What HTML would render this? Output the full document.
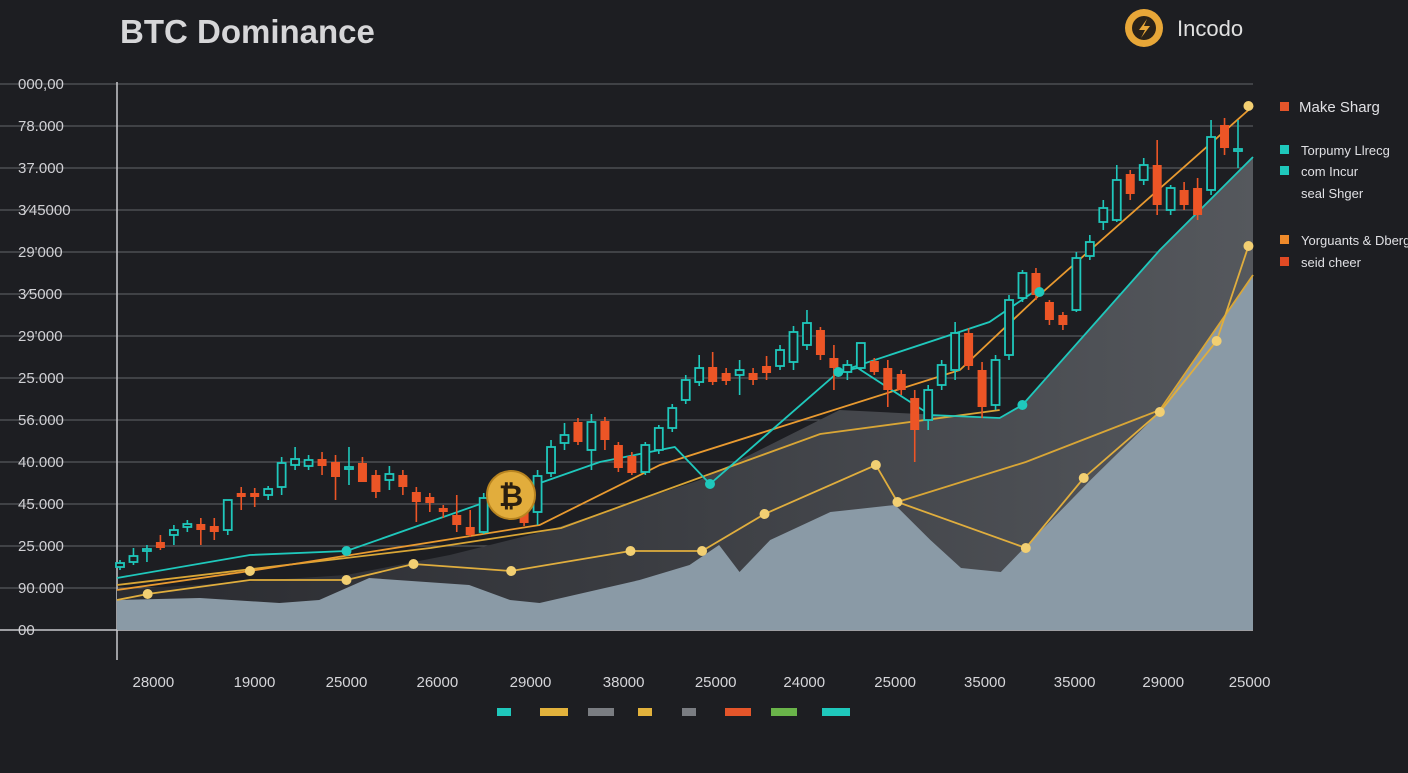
<!DOCTYPE html>
<html><head><meta charset="utf-8">
<style>
html,body{margin:0;padding:0;background:#1d1e22;}
body{width:1408px;height:768px;overflow:hidden;font-family:"Liberation Sans",sans-serif;}
</style></head>
<body>
<svg id="chart" width="1408" height="768" xmlns="http://www.w3.org/2000/svg">
<defs>
<linearGradient id="darkGrad" x1="0" y1="0" x2="1" y2="0">
<stop offset="0" stop-color="#2a2b30"/>
<stop offset="0.45" stop-color="#3a3c41"/>
<stop offset="1" stop-color="#55585d"/>
</linearGradient>
</defs>
<rect width="1408" height="768" fill="#1d1e22"/>
<text x="120" y="43" font-size="33" font-weight="bold" fill="#d6d6d8">BTC Dominance</text>
<g>
<circle cx="1144" cy="28" r="19" fill="#e8a738"/>
<circle cx="1144" cy="28" r="12" fill="#2a2218"/>
<path d="M1147 19 L1139 30 L1145 30 L1141 38 L1150 26 L1144 26 Z" fill="#e8a738"/>
</g>
<text x="1177" y="36" font-size="22" fill="#e0e0e0">Incodo</text>
<g id="grid"></g>
<g id="areas"></g>
<g id="lines"></g>
<g id="candles"></g>
<g id="dots"></g>
<g>
<circle cx="511" cy="495" r="24" fill="#e2ad3c" stroke="#b88420" stroke-width="2"/>
<text x="511" y="506" font-size="30" font-weight="bold" text-anchor="middle" fill="#2a1f10">₿</text>
</g>
<g id="legend-right"></g>
<g id="legend-bottom"></g>
</svg>
<script>
const yTicks=["00","90.000","25.000","45.000","40.000","56.000","25.000","29'000","3⁄5000","29'000","3⁄45000","37.000","78.000","000,00"];
const xTicks=["28000","19000","25000","26000","29000","38000","25000","24000","25000","35000","35000","29000","25000"];
const xTickPos=[3.2,12.1,20.2,28.2,36.4,44.6,52.7,60.5,68.5,76.4,84.3,92.1,99.7];
const opens=[63,68,79,88,95,103,106,104,100,137,137,135,143,165,164,171,168,161,167,155,150,155,138,133,122,115,103,98,133,146,133,118,157,187,208,180,209,185,174,158,180,202,230,248,263,257,255,257,264,264,268,285,300,272,258,262,269,262,256,232,210,245,260,297,260,225,275,332,357,328,315,320,374,408,410,456,450,465,420,440,442,440,505,480];
const closes=[67,74,81,82,100,106,100,98,130,133,133,141,167,171,170,164,153,163,148,138,156,143,128,127,118,105,95,132,140,120,107,154,183,195,188,208,190,162,157,185,202,222,250,262,248,249,260,250,257,280,298,307,275,262,265,287,258,240,240,200,240,265,297,264,223,270,330,357,335,310,305,372,388,422,450,436,465,425,442,425,415,493,482,481];
const highs=[70,82,85,95,105,110,112,112,130,143,142,144,173,183,175,178,175,183,173,160,164,160,143,137,125,135,120,137,150,150,136,160,190,207,212,216,213,188,178,188,205,226,255,275,278,262,270,262,274,285,304,320,303,285,270,287,272,270,260,240,245,270,308,302,268,275,335,360,362,330,318,378,395,430,465,460,472,490,445,448,452,510,512,510];
const lows=[60,65,68,80,85,98,85,90,95,120,123,130,135,160,160,155,130,145,148,132,140,135,108,118,112,98,93,96,128,115,104,105,153,180,185,160,180,158,155,155,176,198,226,244,245,245,235,245,250,260,260,280,270,240,250,260,255,223,235,168,200,240,250,260,212,220,270,328,330,305,300,318,370,400,408,430,445,415,415,420,410,435,475,462];
const tealAx=[0,11.7,20.2,42.5,49.1,52.2,63.5,76.8,81.2];
const tealAy=[52,75,79,168,183,146,258,308,342];
const tealBx=[63.5,65.2,71.6,77.7,79.7,91.8,100];
const tealBy=[258,262,215,212,225,380,473];
const goldAx=[0,2.7,11.7,20.2,26.1,34.7,45.2,51.5,57.0,66.8,68.7,80.0,85.1,91.8,96.8,99.6];
const goldAy=[30,36,50,50,66,59,79,79,116,165,128,82,152,218,289,384];
const goldBx=[0,27.6,39.1,61.9,77.7];
const goldBy=[45,82,102,196,220];
const orangeX=[0,11.7,37.2,47.8,74.2,81.2,100];
const orangeY=[40,59,105,165,260,335,524];
const goldCx=[68.7,80.0,91.8,100];
const goldCy=[128,168,220,355];
const dotTx=[20.2,52.2,63.5,79.7,81.2];
const dotTy=[79,146,258,225,338];
const dotGx=[2.7,11.7,20.2,26.1,34.7,45.2,51.5,57.0,66.8,68.7,80.0,85.1,91.8,96.8,99.6,99.6];
const dotGy=[36,59,50,66,59,79,79,116,165,128,82,152,218,289,384,524];
const darkAx=[0,20.2,29.3,38.1,51.3,63.6,77.7,79.7,91.8,100];
const darkAy=[40,55,75,100,150,220,212,225,380,473];
const lightAx=[0,7.3,14.3,17.8,22.2,31.0,34.6,37.2,46.0,50.4,53.0,54.8,57.5,62.8,68.5,71.6,74.3,77.8,85.7,91.8,100];
const lightAy=[30,32,27,30,52,45,30,27,50,65,85,58,90,118,125,90,62,58,150,218,355];
const legendRight=[["Make Sharg","#e4552a",107,15],["Torpumy Llrecg","#1fc8bc",150,13],["com Incur","#1fc8bc",171,13],["seal Shger","",193,13],["Yorguants & Dberg","#ef8a2a",240,13],["seid cheer","#e04a24",262,13]];
const legendBottom=[["#1fc8bc",497,14],["#e2b23c",540,28],["#7a7d82",588,26],["#e2b23c",638,14],["#7a7d82",682,14],["#e4552a",725,26],["#6ab44a",771,26],["#1fc8bc",822,28]];

const NS="http://www.w3.org/2000/svg";
const X0=117,X1=1253,Y0=630,PXV=1;
function xs(t){return X0+(X1-X0)*t/100;}
function ys(v){return Y0-v*PXV;}
function xc(i){return 120+i*(1238-120)/(opens.length-1);}
function mk(tag,attrs,parent){const e=document.createElementNS(NS,tag);for(const k in attrs)e.setAttribute(k,attrs[k]);parent.appendChild(e);return e;}
const grid=document.getElementById('grid');
yTicks.forEach((lab,i)=>{
  const y=Y0-i*42;
  const l=mk('line',{x1:0,x2:1253,y1:y,y2:y,stroke:i==0?'#c8c8cc':'#55575c','stroke-width':i==0?1.5:1.2},grid);
  
  
  const t=mk('text',{x:18,y:y+5,'font-size':15,fill:'#d0d0d4'},grid);
  t.textContent=lab;
  
  
});
const ax=mk('line',{x1:117,x2:117,y1:82,y2:660,stroke:'#c8c8cc','stroke-width':1.5},grid);


xTicks.forEach((lab,i)=>{
  const t=mk('text',{x:xs(xTickPos[i]),y:687,'font-size':15,fill:'#d6d6da','text-anchor':'middle'},grid);
  t.textContent=lab;
  
  
});
function pts(xa,ya){return xa.map((x,i)=>xs(x)+','+ys(ya[i])).join(' ');}
const areas=document.getElementById('areas');
const da=mk('polygon',{points:xs(0)+','+Y0+' '+pts(darkAx,darkAy)+' '+xs(100)+','+Y0,fill:'url(#darkGrad)'},areas);


const la=mk('polygon',{points:xs(0)+','+Y0+' '+pts(lightAx,lightAy)+' '+xs(100)+','+Y0,fill:'#8a9aa6'},areas);


const lines=document.getElementById('lines');
[[goldBx,goldBy,'#d9a636','gold-trend-line'],[goldCx,goldCy,'#d9a636','gold-lower-line'],[goldAx,goldAy,'#e0ae3e','gold-dotted-series'],[orangeX,orangeY,'#e99a30','orange-trend-line'],[tealAx,tealAy,'#1fc8bc','teal-line-a'],[tealBx,tealBy,'#1fc8bc','teal-line-b']].forEach(s=>{
  const p=mk('polyline',{points:pts(s[0],s[1]),fill:'none',stroke:s[2],'stroke-width':1.8},lines);
  
  
});
const cg=document.getElementById('candles');
opens.forEach((o,i)=>{
  const c=closes[i],up=c>=o,col=up?'#1fc8bc':'#ec5526',x=xc(i);
  const g=mk('g',{},cg);
  
  
  mk('line',{x1:x,x2:x,y1:ys(highs[i]),y2:ys(lows[i]),stroke:col,'stroke-width':1.6},g);
  const top=ys(Math.max(o,c)),h=Math.max(2,Math.abs(o-c));
  if(up) mk('rect',{x:x-4,y:top,width:8,height:h,fill:'#1d1e22',stroke:col,'stroke-width':1.8},g);
  else mk('rect',{x:x-4.5,y:top,width:9,height:h,fill:col},g);
});
const dg=document.getElementById('dots');
dotTx.forEach((x,i)=>{const d=mk('circle',{cx:xs(x),cy:ys(dotTy[i]),r:5,fill:'#1fc8bc'},dg);
  
  });
dotGx.forEach((x,i)=>{const d=mk('circle',{cx:xs(x),cy:ys(dotGy[i]),r:5,fill:'#f2cf72'},dg);
  
  });
const lr=document.getElementById('legend-right');
legendRight.forEach(e=>{
  const g=mk('g',{},lr);
  
  
  if(e[1]) mk('rect',{x:1280,y:e[2]-5,width:9,height:9,fill:e[1]},g);
  const t=mk('text',{x:e[3]==15?1299:1301,y:e[2]+5,'font-size':e[3],fill:'#e0e0e4'},g);
  t.textContent=e[0];
});
const lb=document.getElementById('legend-bottom');
legendBottom.forEach(e=>{
  const r=mk('rect',{x:e[1],y:708,width:e[2],height:8,fill:e[0]},lb);
  
  
});
</script>
</body></html>
